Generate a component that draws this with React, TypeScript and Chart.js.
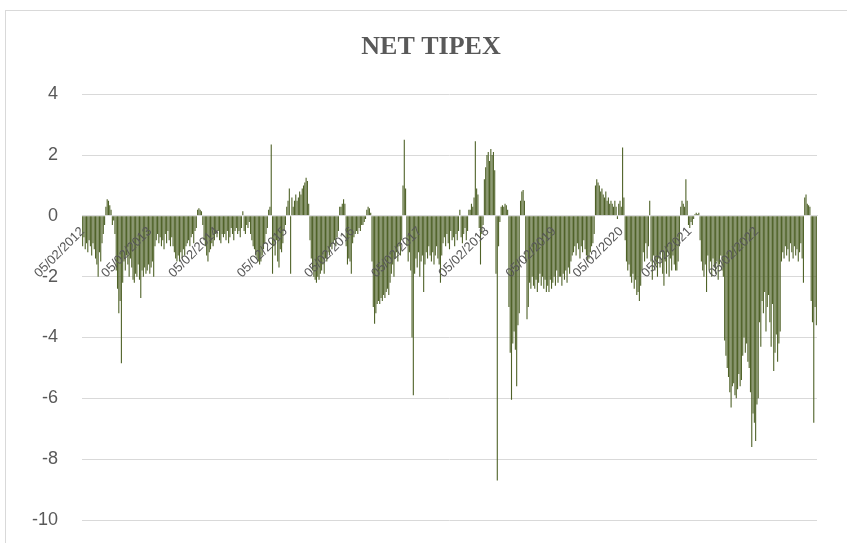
import React, { useEffect, useRef } from 'react';
import { Chart, registerables } from 'chart.js';

Chart.register(...registerables);

const chartTitle = 'NET TIPEX';

const yearLabels = [
  '05/02/2012', '05/02/2013', '05/02/2014', '05/02/2015', '05/02/2016', '05/02/2017',
  '05/02/2018', '05/02/2019', '05/02/2020', '05/02/2021', '05/02/2022',
];
const yearTickIndex = [0, 52, 104, 157, 209, 261, 313, 365, 417, 470, 522];

const yTickValues = [-10, -8, -6, -4, -2, 0, 2, 4];

// weekly net values (10 weeks per line)
const netTipex = [
  -1.0, -0.7, -1.1, -0.9, -1.2, -0.8, -1.0, -1.3, -0.9, -1.1,
  -1.4, -1.6, -2.0, -1.2, -1.5, -0.9, -0.6, -0.3, 0.3, 0.55,
  0.5, 0.35, 0.2, -0.3, -0.15, -0.6, -1.8, -2.4, -3.2, -2.8,
  -4.85, -2.2, -1.5, -1.8, -1.3, -1.6, -2.0, -1.4, -1.7, -2.1,
  -2.2, -1.9, -2.0, -1.6, -2.1, -2.7, -1.8, -2.0, -1.7, -1.9,
  -1.8, -1.6, -1.9, -1.7, -1.5, -2.0, -1.0, -0.8, -0.6, -0.9,
  -0.7, -1.0, -0.8, -1.1, -0.6, -0.9, -0.5, -0.8, -1.0, -0.7,
  -1.0, -1.2, -1.4, -1.5, -1.3, -1.5, -1.2, -1.4, -1.1, -1.3,
  -1.0, -0.9, -0.8, -1.0, -0.7, -0.6, -0.9, -0.5, -0.4, 0.2,
  0.25, 0.2, 0.15, -0.3, -0.8, -1.0, -1.3, -1.5, -1.2, -1.1,
  -0.9, -1.0, -0.8, -0.6, -0.7, -0.5, -0.8, -0.9, -0.6, -0.7,
  -0.6, -0.8, -0.5, -0.9, -0.7, -0.4, -0.6, -0.8, -0.5, -0.4,
  -0.6, -0.5, -0.7, -0.4, 0.15, -0.5, -0.6, -0.3, -0.4, -0.2,
  -0.6, -0.8, -1.0, -1.1, -1.3, -1.4, -1.5, -1.6, -1.5, -1.3,
  -1.1, -0.9, -0.6, -0.4, 0.2, 0.3, 2.35, -1.9, -1.0, -1.3,
  -0.8, -1.5, -1.7, -1.1, -1.2, -0.9, -0.5, -0.3, 0.3, 0.5,
  0.9, -1.9, 0.6, 0.3, 0.5, 0.7, 0.5, 0.6, 0.8, 0.7,
  0.9, 1.0, 1.1, 1.25, 1.15, 0.4, -0.8, -1.4, -1.8, -2.0,
  -2.1, -2.2, -2.0, -2.1, -1.9, -1.8, -1.6, -1.9, -1.4, -1.5,
  -1.2, -1.3, -1.0, -1.1, -0.9, -0.8, -1.0, -0.7, -0.5, 0.3,
  0.3, 0.4, 0.55, 0.4, -1.0, -1.6, -1.4, -1.5, -1.9, -0.9,
  -0.7, -0.6, -0.5, -0.6, -0.4, -0.5, -0.3, -0.3, -0.2, -0.1,
  0.2, 0.3, 0.25, 0.1, -1.5, -3.0, -3.55, -3.2, -2.9, -2.8,
  -2.9, -2.7, -2.8, -2.6, -2.7, -2.5, -2.4, -2.6, -2.2, -1.9,
  -1.6, -2.0, -1.4, -1.2, -1.5, -1.0, -1.3, -0.8, 1.0, 2.5,
  0.9, -1.0, -1.5, -1.2, -1.8, -4.0, -5.9, -1.9, -1.4, -1.7,
  -1.2, -2.0, -1.5, -1.3, -2.5, -1.6, -1.2, -1.4, -1.0, -1.3,
  -1.5, -1.2, -1.6, -1.3, -1.0, -1.4, -1.6, -2.2, -1.3, -0.9,
  -0.7, -1.0, -0.6, -0.9, -1.1, -0.5, -0.8, -0.7, -1.0, -0.6,
  -0.8, -0.5, 0.2, -0.7, -0.9, -0.6, -0.4, -0.8, -0.5, 0.2,
  0.2, 0.4, 0.3, 0.6, 2.45, 0.9, 0.7, -0.4, -1.6, -0.6,
  -0.3, 1.2, 1.6, 2.0, 2.1, 1.8, 2.2, 2.0, 2.1, 1.5,
  -1.9, -8.7, -1.0, -0.2, 0.3, 0.35, 0.3, 0.4, 0.35, 0.2,
  -3.0, -4.5, -6.05, -4.2, -3.8, -4.4, -5.6, -3.6, -3.2, 0.5,
  0.8, 0.85, 0.5, -1.5, -3.4, -3.0, -2.2, -2.4, -2.0, -2.3,
  -2.4, -2.1, -2.5, -2.2, -1.9, -2.3, -2.0, -2.4, -2.1, -2.5,
  -2.3, -2.5, -2.1, -2.4, -2.2, -2.0, -2.3, -1.8, -2.2, -2.0,
  -2.0, -2.3, -1.9, -2.1, -1.8, -2.2, -1.7, -1.9, -1.5, -1.3,
  -1.2, -1.0, -1.3, -0.9, -1.1, -1.4, -1.0, -1.2, -0.8, -1.1,
  -1.3, -1.5, -1.4, -1.2, -1.0, -0.9, -0.6, 1.0, 1.2, 1.1,
  1.0, 0.8, 0.9, 0.7, 0.6, 0.8, 0.5, 0.6, 0.4, 0.5,
  0.4, 0.3, 0.5, 0.3, -0.1, 0.4, 0.5, 0.3, 2.25, 0.6,
  -0.8, -1.5, -1.8, -1.6, -2.0, -2.2, -1.9, -2.4, -2.1, -2.6,
  -2.5, -2.8, -2.3, -1.8, -1.2, -1.5, -0.9, -1.4, -1.0, 0.5,
  -1.5, -2.1, -1.3, -1.8, -1.6, -2.0, -1.4, -1.7, -1.2, -1.9,
  -2.3, -1.5, -1.9, -1.2, -2.0, -1.4, -1.8, -1.3, -1.6, -1.8,
  -1.8, -1.5, -1.0, 0.3, 0.5, 0.4, 0.3, 1.2, 0.5, -0.3,
  -0.4, -0.2, -0.3, -0.1, 0.05, 0.1, 0.05, 0.1, -0.8, -1.5,
  -1.8, -2.0, -1.6, -2.5, -1.3, -1.8, -1.5, -2.0, -1.4, -1.7,
  -1.9, -1.5, -2.1, -1.6, -1.3, -1.8, -2.0, -4.1, -4.6, -5.0,
  -5.3, -5.8, -6.3, -5.6, -5.5, -5.9, -6.0, -5.7, -5.2, -5.6,
  -5.4, -4.6, -4.0, -4.5, -4.2, -4.8, -5.0, -5.8, -7.6, -6.5,
  -6.8, -7.4, -6.2, -6.0, -3.5, -4.3, -2.8, -3.2, -2.5, -3.8,
  -3.0, -2.6, -3.5, -4.3, -2.9, -5.1, -4.5, -3.9, -4.8, -4.2,
  -3.8, -1.5, -1.2, -1.4, -1.0, -1.3, -1.1, -1.5, -0.9, -1.2,
  -1.4, -1.0, -1.3, -1.1, -1.5, -1.2, -0.9, -1.4, -2.2, 0.6,
  0.7, 0.4, 0.35, 0.3, -2.8, -3.5, -6.8, -3.0, -3.6,
];

// weekly category labels (dates), starting 05/02/2012
function weekLabel(i: number): string {
  const d = new Date(Date.UTC(2012, 1, 5 + 7 * i));
  const dd = String(d.getUTCDate()).padStart(2, '0');
  const mm = String(d.getUTCMonth() + 1).padStart(2, '0');
  return `${dd}/${mm}/${d.getUTCFullYear()}`;
}
const weekCategories = netTipex.map((_, i) => weekLabel(i));

export default function App() {
  const canvasRef = useRef<HTMLCanvasElement | null>(null);

  useEffect(() => {
    const canvas = canvasRef.current;
    if (!canvas) return;
    const chart = new Chart(canvas, {
      type: 'bar',
      data: {
        labels: weekCategories,
        datasets: [
          {
            label: chartTitle,
            data: netTipex,
            backgroundColor: '#4F6228',
            borderWidth: 0,
            barPercentage: 0.85,
            categoryPercentage: 1,
          },
        ],
      },
      options: {
        animation: false,
        responsive: false,
        maintainAspectRatio: false,
        events: [],
        layout: { padding: { left: 15, right: 0, top: 22, bottom: 23 } },
        plugins: {
          legend: { display: false },
          tooltip: { enabled: false },
          title: {
            display: true,
            text: chartTitle,
            color: '#595959',
            font: { family: 'Liberation Serif', size: 26, weight: 'bold' },
            padding: { top: 10, bottom: 31 },
          },
        },
        scales: {
          x: {
            type: 'category',
            position: { y: 0 } as any,
            grid: { display: false, drawTicks: false },
            border: { display: true, color: '#d9d9d9', z: 1 } as any,
            ticks: {
              z: 2,
              autoSkip: false,
              minRotation: 45,
              maxRotation: 45,
              padding: 8,
              color: '#595959',
              font: { family: 'Liberation Sans', size: 13 },
              callback: (_v: any, i: number) => {
                const k = yearTickIndex.indexOf(i);
                return k >= 0 ? yearLabels[k] : '';
              },
            },
          },
          y: {
            min: -10,
            max: 4,
            afterBuildTicks: (scale: any) => {
              scale.ticks = yTickValues.map((v) => ({ value: v }));
            },
            afterFit: (scale: any) => {
              scale.width = 67;
            },
            grid: {
              color: '#d9d9d9',
              lineWidth: 1,
              drawTicks: true,
              tickLength: 22,
              tickColor: 'rgba(0,0,0,0)',
            },
            border: { display: false },
            ticks: {
              padding: 2,
              color: '#595959',
              font: { family: 'Liberation Sans', size: 18 },
            },
          },
          yRightSpace: {
            type: 'linear',
            position: 'right',
            display: true,
            min: 0,
            max: 1,
            grid: { display: false, drawTicks: false },
            border: { display: false },
            ticks: { display: false },
            afterFit: (scale: any) => {
              scale.width = 30;
            },
          },
        },
      },
    });
    return () => chart.destroy();
  }, []);

  return (
    <div style={{ position: 'absolute', left: 0, top: 0, width: 847, height: 543, background: '#ffffff', overflow: 'hidden' }}>
      <div
        style={{
          position: 'absolute',
          left: 5,
          top: 10,
          width: 860,
          height: 560,
          borderLeft: '1px solid #d9d9d9',
          borderTop: '1px solid #d9d9d9',
          boxSizing: 'border-box',
        }}
      />
      <canvas ref={canvasRef} width={847} height={543} style={{ position: 'absolute', left: 0, top: 0, display: 'block' }} />
    </div>
  );
}
